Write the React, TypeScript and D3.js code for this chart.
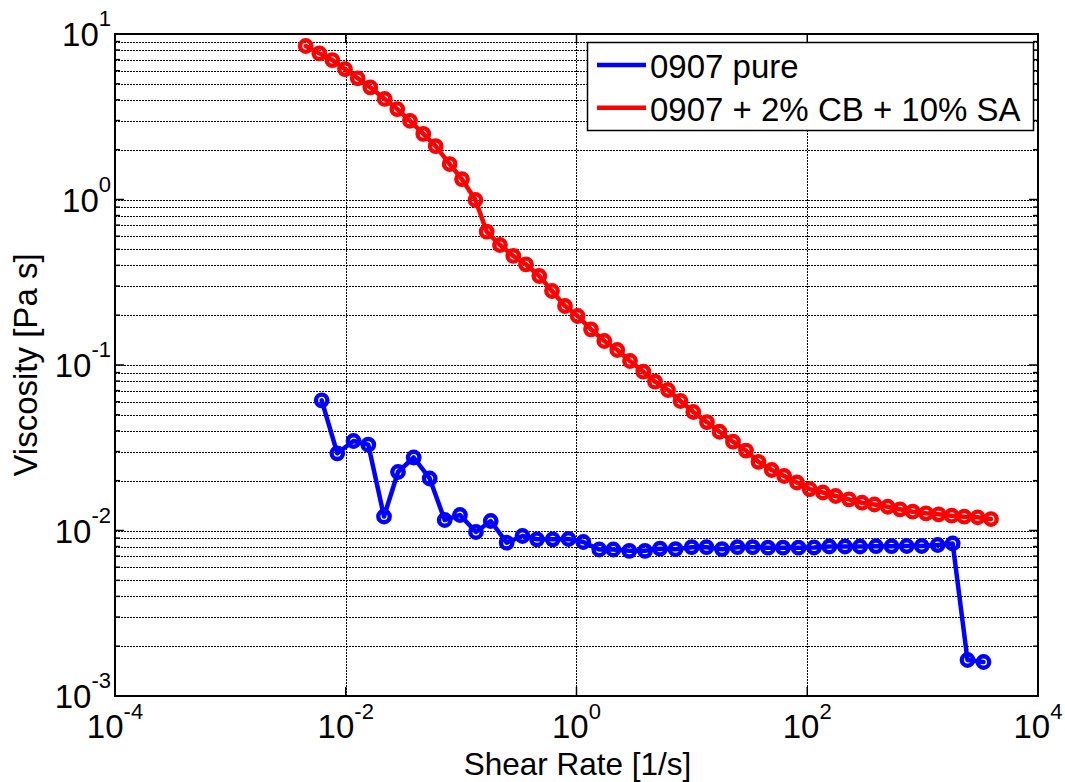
import React from "react";
import * as d3 from "d3";

const redX = [0.0045, 0.0059, 0.00765, 0.00985, 0.0127, 0.01632, 0.02176, 0.02797, 0.03604, 0.047, 0.0602, 0.0796, 0.1018, 0.1332, 0.1666, 0.2172, 0.2833, 0.365, 0.4761, 0.6134, 0.795, 1.024, 1.336, 1.742, 2.258, 2.909, 3.794, 4.79, 6.21, 7.97, 10.29, 13.52, 17.36, 22.72, 29.45, 37.8, 49.2, 63.1, 81.5, 105, 136.9, 176.4, 230.1, 298.3, 382.7, 498.2, 636.9, 820.4, 1070, 1378, 1786, 2297, 3001, 3914];
const redY = [8.46, 7.64, 6.96, 6.14, 5.4, 4.76, 4.05, 3.52, 2.99, 2.49, 2.1, 1.638, 1.326, 0.993, 0.639, 0.531, 0.456, 0.406, 0.345, 0.28, 0.2272, 0.1977, 0.1643, 0.1396, 0.1232, 0.1057, 0.0911, 0.0793, 0.0706, 0.0606, 0.052, 0.0452, 0.0395, 0.0344, 0.0304, 0.026, 0.0232, 0.02135, 0.0195, 0.0178, 0.01697, 0.01616, 0.01543, 0.01472, 0.01436, 0.01392, 0.01343, 0.01299, 0.0127, 0.01253, 0.01229, 0.01212, 0.01202, 0.01173];

const blueX = [0.006187, 0.00845, 0.01167, 0.01568, 0.02146, 0.02837, 0.03881, 0.0534, 0.07204, 0.09777, 0.1345, 0.1805, 0.2483, 0.3404, 0.4546, 0.6222, 0.8526, 1.145, 1.576, 2.084, 2.869, 3.924, 5.292, 7.213, 9.966, 13.39, 18.24, 24.86, 33.67, 45.68, 61.64, 84.03, 114.4, 155.3, 212.4, 286.6, 394.3, 537.4, 727.8, 981.7, 1351, 1822, 2449, 3370];
const blueY = [0.06118, 0.02927, 0.03474, 0.03299, 0.01215, 0.02257, 0.02761, 0.02062, 0.01157, 0.01241, 0.009793, 0.01141, 0.008441, 0.009265, 0.008847, 0.008847, 0.008884, 0.008522, 0.007678, 0.007678, 0.00754, 0.00754, 0.007762, 0.007709, 0.007926, 0.007926, 0.007709, 0.007926, 0.007926, 0.007871, 0.007871, 0.007871, 0.007893, 0.008003, 0.008003, 0.008003, 0.008036, 0.008036, 0.008059, 0.008059, 0.008173, 0.008346, 0.00165, 0.001605];

const xTickExps = [-4, -2, 0, 2, 4];
const yTickExps = [-3, -2, -1, 0, 1];
const seriesNames = ["0907 pure", "0907 + 2% CB + 10% SA"];
const seriesColors = ["#0000ff", "#ff0000"];
const xTitle = "Shear Rate [1/s]";
const yTitle = "Viscosity [Pa s]";

const W = 1065, H = 782;
const L = 115, R = 1038, T = 34, B = 696;
const FONT = "Arial, 'Liberation Sans', Helvetica, sans-serif";

export default function App() {
  const xs = d3.scaleLog().domain([1e-4, 1e4]).range([L, R]);
  const ys = d3.scaleLog().domain([1e-3, 1e1]).range([B, T]);

  const yMinor: number[] = [];
  for (let e = -3; e < 1; e++) for (let m = 2; m <= 9; m++) yMinor.push(m * Math.pow(10, e));

  const line = d3.line<[number, number]>().x((d) => xs(d[0])).y((d) => ys(d[1]));
  const series = [
    blueX.map((x, i) => [x, blueY[i]] as [number, number]),
    redX.map((x, i) => [x, redY[i]] as [number, number]),
  ];

  return (
    <div style={{ position: "absolute", left: 0, top: 0 }}>
      <svg width={W} height={H} style={{ display: "block", background: "#fff" }} fontFamily={FONT}>
        <rect x={0} y={0} width={W} height={H} fill="#fff" />
        {/* grid */}
        <g stroke="#000" strokeWidth={1} strokeDasharray="2,1" fill="none">
          {yMinor.map((v, i) => (
            <line key={"ym" + i} x1={L} x2={R} y1={Math.round(ys(v)) + 0.5} y2={Math.round(ys(v)) + 0.5} />
          ))}
          {yTickExps.slice(1, -1).map((e) => (
            <line key={"yg" + e} x1={L} x2={R} y1={Math.round(ys(Math.pow(10, e))) + 0.5} y2={Math.round(ys(Math.pow(10, e))) + 0.5} />
          ))}
          {xTickExps.slice(1, -1).map((e) => (
            <line key={"xg" + e} y1={T} y2={B} x1={Math.round(xs(Math.pow(10, e))) + 0.5} x2={Math.round(xs(Math.pow(10, e))) + 0.5} />
          ))}
        </g>
        {/* series */}
        {series.map((pts, si) => (
          <g key={"s" + si} stroke={seriesColors[si]} fill="none" strokeWidth={4.5}>
            <path d={line(pts) || ""} strokeLinejoin="round" strokeLinecap="round" />
            {pts.map((p, i) => (
              <circle key={i} cx={xs(p[0])} cy={ys(p[1])} r={5.7} strokeWidth={4.4} />
            ))}
          </g>
        ))}
        {/* ticks */}
        <g stroke="#000" strokeWidth={1.5}>
          {xTickExps.map((e) => {
            const x = xs(Math.pow(10, e));
            return (
              <g key={"xt" + e}>
                <line x1={x} x2={x} y1={B} y2={B - 9} />
                <line x1={x} x2={x} y1={T} y2={T + 9} />
              </g>
            );
          })}
          {yTickExps.map((e) => {
            const y = ys(Math.pow(10, e));
            return (
              <g key={"yt" + e}>
                <line x1={L} x2={L + 9} y1={y} y2={y} />
                <line x1={R} x2={R - 9} y1={y} y2={y} />
              </g>
            );
          })}
          {yMinor.map((v, i) => {
            const y = ys(v);
            return (
              <g key={"ymt" + i}>
                <line x1={L} x2={L + 5} y1={y} y2={y} />
                <line x1={R} x2={R - 5} y1={y} y2={y} />
              </g>
            );
          })}
        </g>
        {/* axes box */}
        <rect x={L} y={T} width={R - L} height={B - T} fill="none" stroke="#000" strokeWidth={2} />
        {/* tick labels */}
        {xTickExps.map((e) => (
          <text key={"xl" + e} x={xs(Math.pow(10, e))} y={738} textAnchor="middle" fontSize={33} fill="#000">
            <tspan>10</tspan>
            <tspan dy={-19} fontSize={22}>{String(e)}</tspan>
          </text>
        ))}
        {yTickExps.map((e) => (
          <text key={"yl" + e} x={111} y={ys(Math.pow(10, e)) + 12} textAnchor="end" fontSize={33} fill="#000">
            <tspan>10</tspan>
            <tspan dy={-20} fontSize={22}>{String(e)}</tspan>
          </text>
        ))}
        {/* axis titles */}
        <text x={(L + R) / 2 + 1} y={775} textAnchor="middle" fontSize={31.5} fill="#000">{xTitle}</text>
        <text transform={`translate(37,${(T + B) / 2}) rotate(-90)`} textAnchor="middle" fontSize={33} fill="#000">{yTitle}</text>
        {/* legend */}
        <rect x={587.5} y={42.5} width={446} height={88} fill="#fff" stroke="#000" strokeWidth={1.5} />
        {seriesNames.map((n, i) => {
          const y = 65 + i * 42.7;
          return (
            <g key={"lg" + i}>
              <line x1={597} x2={646} y1={y} y2={y} stroke={seriesColors[i]} strokeWidth={4.5} />
              <text x={650} y={y + 13} fontSize={33} fill="#000">{n}</text>
            </g>
          );
        })}
      </svg>
    </div>
  );
}
